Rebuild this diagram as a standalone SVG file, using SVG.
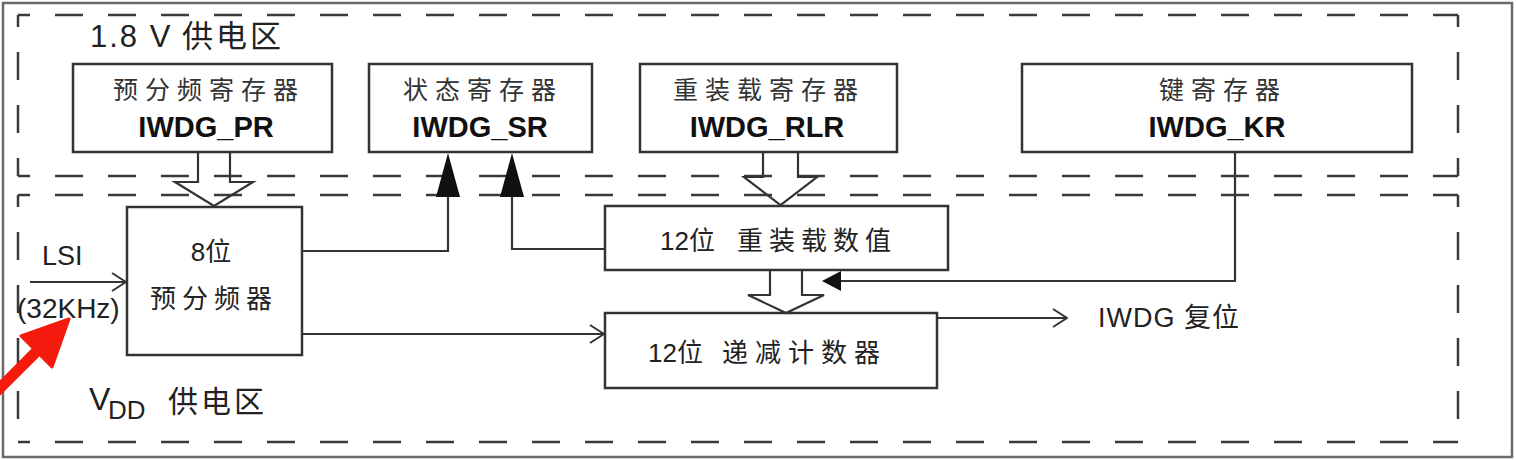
<svg xmlns="http://www.w3.org/2000/svg" width="1516" height="460" viewBox="0 0 1516 460">
<style>
.frame{fill:none;stroke:#6a6a6a;stroke-width:2.5}
.dash{fill:none;stroke:#3a3a3a;stroke-width:2.5;stroke-dasharray:28 25}
.box{fill:#fff;stroke:#333;stroke-width:2.5}
.ln{fill:none;stroke:#333;stroke-width:2.2}
.hollow{fill:none;stroke:#333;stroke-width:2.2;stroke-linejoin:miter}
.solid{fill:#111;stroke:none}
.cn{font-family:"Liberation Sans","Noto Sans CJK SC",sans-serif;font-size:25px;fill:#333;letter-spacing:7px;text-anchor:middle}
.reg{font-family:"Liberation Sans","Noto Sans CJK SC",sans-serif;font-size:29px;font-weight:bold;fill:#111;text-anchor:middle}
.lbl{font-family:"Liberation Sans","Noto Sans CJK SC",sans-serif;fill:#222}
.mid{font-family:"Liberation Sans","Noto Sans CJK SC",sans-serif;font-size:26px;fill:#222}
</style>
<defs>
<marker id="open" viewBox="0 0 16 20" refX="15" refY="10" markerWidth="16" markerHeight="20" markerUnits="userSpaceOnUse" orient="auto">
<path d="M1,1 L15,10 L1,19" fill="none" stroke="#333" stroke-width="2"/>
</marker>
</defs>
<rect class="frame" x="3" y="3" width="1509" height="454"/>
<g id="zone-18v">
<line class="dash" x1="18" y1="15" x2="1458" y2="15" stroke-dashoffset="16"/>
<line class="dash" x1="18" y1="176" x2="1458" y2="176" stroke-dashoffset="16"/>
<line class="dash" x1="18" y1="15" x2="18" y2="176" stroke-dashoffset="16"/>
<line class="dash" x1="1458" y1="15" x2="1458" y2="176" stroke-dashoffset="16"/>
<text class="lbl" y="47" font-size="31"><tspan x="90" letter-spacing="2">1.8 V</tspan><tspan x="182" letter-spacing="3">供电区</tspan></text>
</g>
<g id="zone-vdd">
<line class="dash" x1="18" y1="195" x2="1458" y2="195" stroke-dashoffset="16"/>
<line class="dash" x1="18" y1="442" x2="1458" y2="442" stroke-dashoffset="16"/>
<line class="dash" x1="18" y1="195" x2="18" y2="442" stroke-dashoffset="16"/>
<line class="dash" x1="1458" y1="195" x2="1458" y2="442" stroke-dashoffset="16"/>
<text class="lbl" x="89" y="410" font-size="32">V</text>
<text class="lbl" x="108" y="419" font-size="26">DD</text>
<text class="lbl" x="168" y="412" font-size="30" letter-spacing="3">供电区</text>
</g>
<g id="iwdg-pr">
<rect class="box" x="73" y="64" width="259" height="88"/>
<text class="cn" x="209" y="99">预分频寄存器</text>
<text class="reg" x="206" y="137">IWDG_PR</text>
</g>
<g id="iwdg-sr">
<rect class="box" x="369" y="64" width="223" height="88"/>
<text class="cn" x="483" y="99">状态寄存器</text>
<text class="reg" x="480" y="137">IWDG_SR</text>
</g>
<g id="iwdg-rlr">
<rect class="box" x="640" y="64" width="257" height="88"/>
<text class="cn" x="769" y="99">重装载寄存器</text>
<text class="reg" x="767" y="137">IWDG_RLR</text>
</g>
<g id="iwdg-kr">
<rect class="box" x="1022" y="64" width="390" height="88"/>
<text class="cn" x="1223" y="99">键寄存器</text>
<text class="reg" x="1217" y="137">IWDG_KR</text>
</g>
<g id="prescaler">
<rect class="box" x="127" y="207" width="175" height="148"/>
<text class="mid" x="211" y="261" text-anchor="middle">8位</text>
<text class="mid" x="214" y="308" text-anchor="middle" letter-spacing="6">预分频器</text>
</g>
<g id="reload-value">
<rect class="box" x="605" y="206" width="343" height="64"/>
<text class="mid" y="250"><tspan x="660">12位</tspan><tspan x="737" letter-spacing="6">重装载数值</tspan></text>
</g>
<g id="down-counter">
<rect class="box" x="605" y="313" width="332" height="75"/>
<text class="mid" y="362"><tspan x="648">12位</tspan><tspan x="722" letter-spacing="7">递减计数器</tspan></text>
</g>
<g id="lsi-label">
<text class="lbl" x="42" y="265" font-size="27">LSI</text>
<text class="lbl" x="17" y="318" font-size="28">(32KHz)</text>
</g>
<g id="reset-label">
<text class="lbl" x="1098" y="327" font-size="27" letter-spacing="1">IWDG 复位</text>
</g>
<g id="connectors">
<path class="hollow" d="M198,152 V182 H175 L214,206 L253,182 H230 V152"/>
<path class="hollow" d="M763,152 V177 H744 L780.5,205 L817,177 H798 V152"/>
<path class="hollow" d="M770,270 V295 H748 L786,313 L824,295 H802 V270"/>
<path class="ln" d="M302,251 H448 V196"/>
<path class="solid" d="M448,153 L460,197 L436,197 Z"/>
<path class="ln" d="M605,249 H512 V196"/>
<path class="solid" d="M512,153 L524,197 L500,197 Z"/>
<path class="ln" d="M1235,152 V281 H838"/>
<path class="solid" d="M822,281 L841,271 L841,291 Z"/>
<line class="ln" x1="30" y1="282" x2="126" y2="282" marker-end="url(#open)"/>
<line class="ln" x1="302" y1="334" x2="604" y2="334" marker-end="url(#open)"/>
<line class="ln" x1="937" y1="318" x2="1067" y2="318" marker-end="url(#open)"/>
</g>
<g id="red-pointer">
<line x1="-4" y1="392" x2="42" y2="346" stroke="#f51a0e" stroke-width="11" stroke-linecap="round"/>
<path d="M69,319 L21,336 L52,367 Z" fill="#f51a0e" stroke="#f51a0e" stroke-width="3" stroke-linejoin="round"/>
</g>
</svg>
